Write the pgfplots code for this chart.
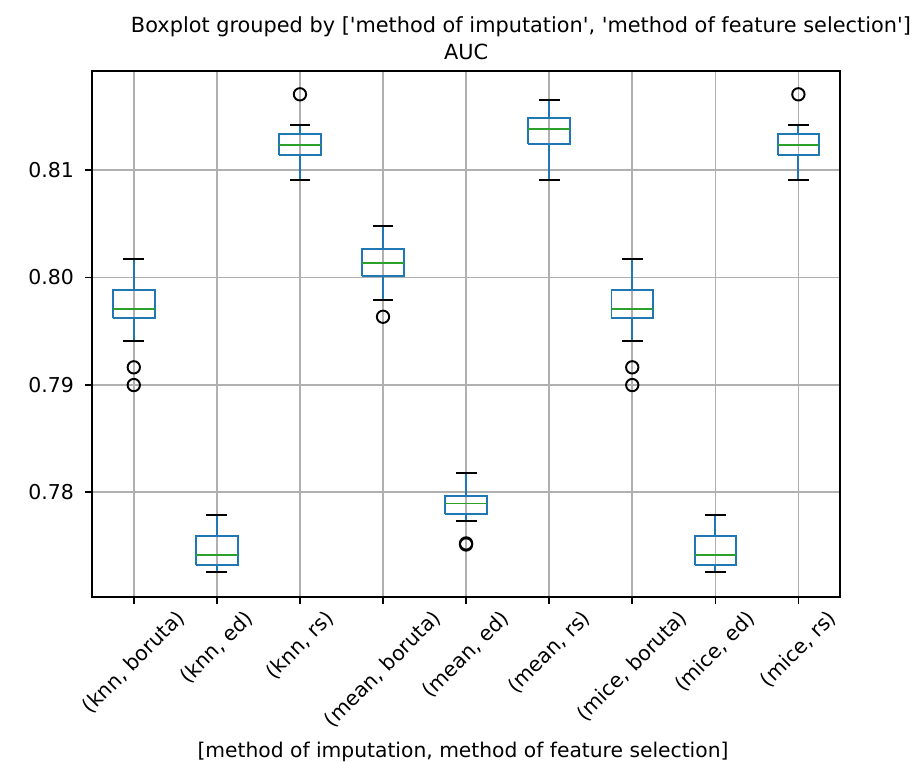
\documentclass[border=0pt]{standalone}
\usepackage{fontspec}
\setmainfont{DejaVu Sans}
\newfontfamily\plainfont{DejaVu Sans}
\usepackage{graphicx}
\usepackage{pgfplots}
\pgfplotsset{compat=1.18}
\definecolor{mplblue}{HTML}{1F77B4}
\definecolor{mplgreen}{HTML}{2CA02C}
\definecolor{mplgrid}{HTML}{B0B0B0}
% #1 left, #2 centre, #3 right, #4 lower whisker, #5 Q1, #6 median, #7 Q3, #8 upper whisker
\newcommand{\drawbox}[8]{%
  \addplot[mplblue, line width=1pt, line join=miter, forget plot] coordinates {(#1,#5) (#3,#5) (#3,#7) (#1,#7) (#1,#5)};
  \addplot[mplblue, line width=1pt, forget plot] coordinates {(#2,#5) (#2,#4)};
  \addplot[mplblue, line width=1pt, forget plot] coordinates {(#2,#7) (#2,#8)};
  \addplot[only marks, mark=-, mark size=5.4pt, mark options={draw=black, line width=1pt}, forget plot] coordinates {(#2,#4) (#2,#8)};
  \addplot[mplgreen, line width=1pt, forget plot] coordinates {(#1,#6) (#3,#6)};
}
\begin{document}
\begin{tikzpicture}
\begin{axis}[
  at={(0,0)}, anchor=south west,
  scale only axis,
  width=387.4pt, height=272.4pt,
  xmin=0.5, xmax=9.5,
  ymin=0.77025, ymax=0.81922,
  xtick={1,2,3,4,5,6,7,8,9},
  xticklabels={
    {\rotatebox{45}{(knn, boruta)}},
    {\rotatebox{45}{(knn, ed)}},
    {\rotatebox{45}{(knn, rs)}},
    {\rotatebox{45}{(mean, boruta)}},
    {\rotatebox{45}{(mean, ed)}},
    {\rotatebox{45}{(mean, rs)}},
    {\rotatebox{45}{(mice, boruta)}},
    {\rotatebox{45}{(mice, ed)}},
    {\rotatebox{45}{(mice, rs)}}
  },
  ytick={0.78,0.79,0.80,0.81},
  yticklabel style={/pgf/number format/fixed, /pgf/number format/precision=2, /pgf/number format/fixed zerofill, /pgf/number format/assume math mode=true},
  scaled y ticks=false,
  tick label style={font=\fontsize{10.6}{12.5}\selectfont},
  xticklabel style={anchor=north, yshift=1pt},
  yticklabel style={xshift=-2.5pt},
  xtick pos=bottom, ytick pos=left,
  tick align=outside,
  major tick length=3.5pt,
  tick style={black, line width=0.8pt},
  axis line style={black, line width=0.8pt},
  grid=major,
  major grid style={mplgrid, line width=0.8pt},
  clip=false,
]
% (knn, boruta)
\drawbox{0.75}{1}{1.25}{0.79407}{0.79624}{0.79708}{0.79882}{0.80168}
% (knn, ed)
\drawbox{1.75}{2}{2.25}{0.77252}{0.77320}{0.77416}{0.77590}{0.77786}
% (knn, rs)
\drawbox{2.75}{3}{3.25}{0.80904}{0.81137}{0.81230}{0.81338}{0.81422}
% (mean, boruta)
\drawbox{3.75}{4}{4.25}{0.79789}{0.80015}{0.80131}{0.80264}{0.80481}
% (mean, ed)
\drawbox{4.75}{5}{5.25}{0.77730}{0.77800}{0.77894}{0.77963}{0.78180}
% (mean, rs)
\drawbox{5.75}{6}{6.25}{0.80904}{0.81242}{0.81379}{0.81487}{0.81652}
% (mice, boruta)
\drawbox{6.75}{7}{7.25}{0.79407}{0.79624}{0.79708}{0.79882}{0.80168}
% (mice, ed)
\drawbox{7.75}{8}{8.25}{0.77252}{0.77320}{0.77416}{0.77590}{0.77786}
% (mice, rs)
\drawbox{8.75}{9}{9.25}{0.80904}{0.81137}{0.81230}{0.81338}{0.81422}
% outliers
\addplot[only marks, mark=o, mark size=3.2pt, mark options={draw=black, fill=none, line width=1pt}]
  coordinates {(1,0.79162) (1,0.78997) (3,0.81705) (4,0.79633) (5,0.77522) (5,0.77512) (7,0.79162) (7,0.78997) (9,0.81705)};
\end{axis}
\node[anchor=base, font=\plainfont\fontsize{10.8}{13}\selectfont, inner sep=0pt] at (222.1pt,292.6pt) {Boxplot grouped by ['method of imputation', 'method of feature selection']};
\node[anchor=base, font=\plainfont\fontsize{10.8}{13}\selectfont, inner sep=0pt] at (193.7pt,278.6pt) {AUC};
\node[anchor=base, font=\plainfont\fontsize{10.5}{12.5}\selectfont, inner sep=0pt] at (192.1pt,-83.3pt) {[method of imputation, method of feature selection]};
\pgfresetboundingbox
\path[use as bounding box] (-47.8pt,-85.6pt) rectangle (429.4pt,309.2pt);
\end{tikzpicture}
\end{document}
